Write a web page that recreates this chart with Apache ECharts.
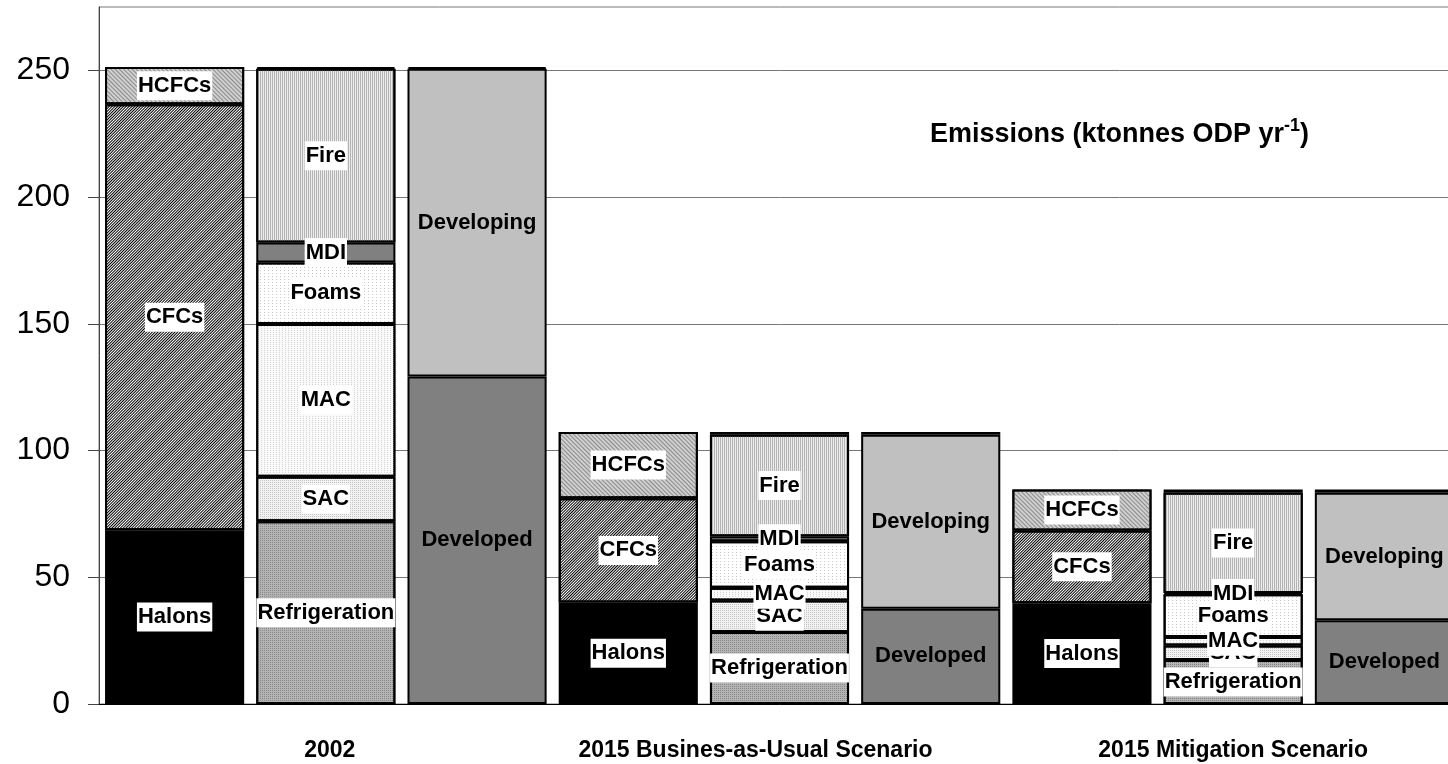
<!DOCTYPE html>
<html>
<head>
<meta charset="utf-8">
<script src="https://cdn.jsdelivr.net/npm/echarts@6/dist/echarts.min.js"></script>
<style>
  html, body { margin: 0; padding: 0; background: #fff; overflow: hidden; }
  /* a bit wider than the window: the last bar runs off the right edge */
  #chart { width: 1460px; height: 764px; }
</style>
</head>
<body>
<div id="chart"></div>
<script>
// x categories: three bars per scenario (chemical / sector / region)
var categories = ['', '2002', '', '', '2015 Busines-as-Usual Scenario', '', '', '2015 Mitigation Scenario', ''];
var yTicks = [0, 50, 100, 150, 200, 250];

// values per scenario: [2002, 2015 BAU, 2015 Mitigation], ktonnes ODP/yr
var halons = [68.6, 40.0, 39.8];
var cfcs = [168.0, 41.2, 28.7];
var hcfcs = [14.7, 26.1, 16.1];

var refrigeration = [72.1, 28.4, 17.4];
var sac = [17.6, 12.4, 5.7];
var mac = [60.2, 5.1, 3.3];
var foams = [24.3, 18.3, 16.9];
var mdi = [7.9, 2.0, 0.5];
var fire = [68.5, 40.0, 39.5];
var sectorOther = [0.7, 1.1, 1.3];

var developed = [129.2, 37.6, 33.0];
var developing = [121.4, 68.6, 50.3];
var regionOther = [0.7, 1.1, 1.3];

// put a scenario's values into the bar slot (0 chemical, 1 sector, 2 region)
function slot(vals, pos) {
  var out = [];
  for (var i = 0; i < categories.length; i++) {
    out.push(i % 3 === pos ? vals[Math.floor(i / 3)] : '-');
  }
  return out;
}

var boxLabel = {
  show: true, position: 'inside', formatter: '{a}',
  color: '#000', fontSize: 22, fontWeight: 'bold',
  backgroundColor: '#fff', padding: [4, 1, 3, 1]
};
var plainLabel = {
  show: true, position: 'inside', formatter: '{a}',
  color: '#000', fontSize: 22, fontWeight: 'bold'
};

function bar(name, data, fill, decal, label) {
  var style = { color: fill, borderColor: '#000', borderWidth: 2 };
  if (decal) style.decal = decal;
  return {
    name: name, type: 'bar', stack: 'all', data: data,
    barCategoryGap: '8%', itemStyle: style,
    label: label || { show: false },
    emphasis: { disabled: true }
  };
}

var chart = echarts.init(document.getElementById('chart'));
chart.setOption({
  animation: false,
  textStyle: { fontFamily: 'Liberation Sans, Arial, sans-serif' },
  title: {
    text: '{a|Emissions (ktonnes ODP yr}{s|-1}{a|)}',
    left: 930, top: 117, padding: 0,
    textStyle: {
      rich: {
        a: { fontSize: 27, fontWeight: 'bold', color: '#000', lineHeight: 36 },
        s: { fontSize: 18, fontWeight: 'bold', color: '#000', lineHeight: 18, verticalAlign: 'top' }
      }
    }
  },
  grid: {
    left: 99, right: 0, top: 7, bottom: 60, containLabel: false,
    show: true, borderColor: '#777', borderWidth: 1, backgroundColor: 'transparent'
  },
  xAxis: {
    type: 'category', data: categories,
    axisLine: { lineStyle: { color: '#000', width: 1 } },
    axisTick: { interval: 0, length: 11, lineStyle: { color: '#000' } },
    axisLabel: {
      interval: 0, margin: 35, fontSize: 23, fontWeight: 'bold', color: '#000',
      formatter: function (v, i) {
        if (i === 4) return '{bau|' + v + '}';
        if (i === 1) return '{y02|' + v + '}';
        return v;
      },
      rich: {
        bau: { fontSize: 23, fontWeight: 'bold', color: '#000', padding: [0, 48, 0, 0] },
        y02: { fontSize: 23, fontWeight: 'bold', color: '#000', padding: [0, 0, 0, 8] }
      }
    },
    splitLine: { show: false }
  },
  yAxis: {
    type: 'value', min: 0, max: 275, interval: 50,
    axisLine: { show: true, lineStyle: { color: '#444', width: 1 } },
    axisTick: { show: true, length: 11, customValues: yTicks, lineStyle: { color: '#444' } },
    axisLabel: { margin: 29, fontSize: 32, color: '#000', customValues: yTicks },
    splitLine: { show: true, lineStyle: { color: '#777', width: 1 } }
  },
  series: [
    bar('Halons', slot(halons, 0), '#000', null, boxLabel),
    bar('CFCs', slot(cfcs, 0), '#fff',
      { symbol: 'rect', symbolSize: 1, color: '#000', dashArrayX: [1, 0], dashArrayY: [1, 1], rotation: -Math.PI / 4 }, boxLabel),
    bar('HCFCs', slot(hcfcs, 0), '#d0d0d0',
      { symbol: 'rect', symbolSize: 1, color: '#8a8a8a', dashArrayX: [1, 0], dashArrayY: [1, 2], rotation: Math.PI / 4 }, boxLabel),

    bar('Refrigeration', slot(refrigeration, 1), '#b4b4b4',
      { symbol: 'rect', symbolSize: 1, color: '#888', dashArrayX: [1, 1], dashArrayY: [1, 1] }, boxLabel),
    bar('SAC', slot(sac, 1), '#f2f2f2',
      { symbol: 'rect', symbolSize: 1, color: '#c4c4c4', dashArrayX: [1, 1], dashArrayY: [1, 1] }, boxLabel),
    bar('MAC', slot(mac, 1), '#fafafa',
      { symbol: 'rect', symbolSize: 1, color: '#d4d4d4', dashArrayX: [1, 2], dashArrayY: [1, 1] }, boxLabel),
    bar('Foams', slot(foams, 1), '#fff',
      { symbol: 'rect', symbolSize: 1, color: '#c8c8c8', dashArrayX: [1, 3], dashArrayY: [1, 2] }, boxLabel),
    bar('MDI', slot(mdi, 1), '#808080', null, boxLabel),
    bar('Fire', slot(fire, 1), '#ececec',
      { symbol: 'rect', symbolSize: 1, color: '#b4b4b4', dashArrayX: [1, 1], dashArrayY: [1, 0] }, boxLabel),
    bar('Other', slot(sectorOther, 1), '#fff', null, null),

    bar('Developed', slot(developed, 2), '#808080', null, plainLabel),
    bar('Developing', slot(developing, 2), '#c0c0c0', null, plainLabel),
    bar('Other region', slot(regionOther, 2), '#fff', null, null)
  ]
});
</script>
</body>
</html>
